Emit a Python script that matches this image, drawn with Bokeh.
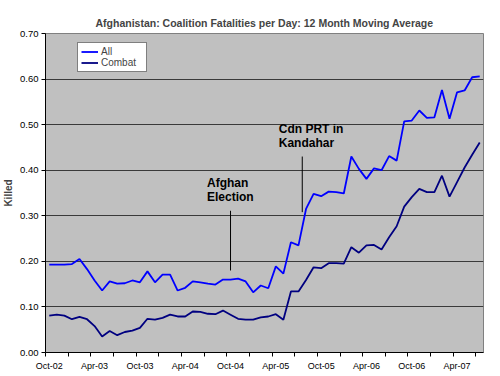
from bokeh.plotting import figure
from bokeh.models import FixedTicker, Legend, LegendItem, ColumnDataSource, Range1d, PrintfTickFormatter
from bokeh.embed import file_html
from bokeh.resources import INLINE
from bokeh.core.properties import value

title = "Afghanistan: Coalition Fatalities per Day: 12 Month Moving Average"
tick_labels = ["Oct-02", "Apr-03", "Oct-03", "Apr-04", "Oct-04",
               "Apr-05", "Oct-05", "Apr-06", "Oct-06", "Apr-07"]
months_per_label = 6

all_vals = [0.193, 0.193, 0.193, 0.194, 0.205, 0.183, 0.158, 0.136, 0.156, 0.151,
            0.152, 0.158, 0.154, 0.178, 0.154, 0.171,
            0.171, 0.136, 0.142, 0.156, 0.154, 0.151, 0.149, 0.160, 0.160, 0.162,
            0.156, 0.132, 0.147, 0.141, 0.189, 0.173,
            0.242, 0.235, 0.315, 0.348, 0.343, 0.353, 0.352, 0.349, 0.430, 0.403,
            0.381, 0.404, 0.400,
            0.431, 0.421, 0.507, 0.509, 0.531, 0.515, 0.516, 0.576, 0.513, 0.571,
            0.575, 0.604, 0.606]
combat_vals = [0.081, 0.083, 0.081, 0.073, 0.078, 0.073, 0.058, 0.035, 0.047, 0.038,
               0.045, 0.048, 0.054, 0.074, 0.072, 0.076,
               0.083, 0.079, 0.079, 0.090, 0.089, 0.085, 0.084, 0.092, 0.083, 0.074,
               0.072, 0.072, 0.077, 0.079, 0.084, 0.072,
               0.134, 0.134, 0.159, 0.187, 0.185, 0.196, 0.196, 0.195, 0.231, 0.219,
               0.235, 0.236, 0.226,
               0.253, 0.277, 0.320, 0.341, 0.359, 0.352, 0.352, 0.388, 0.342, 0.374,
               0.406, 0.434, 0.461]

event_text = ["Afghan\nElection", "Cdn PRT in\nKandahar"]
event_x = [24.5, 34.0]
event_top = [0.311, 0.430]
event_bottom = [0.180, 0.308]

n = len(all_vals)
xs = [i + 0.5 for i in range(n)]
src = ColumnDataSource(dict(x=xs, all=all_vals, combat=combat_vals))

FONT = "Liberation Sans"

p = figure(width=500, height=376, output_backend="svg", toolbar_location=None,
           x_range=Range1d(0, n), y_range=Range1d(0, 0.7),
           min_border_left=43, min_border_right=17, min_border_top=33, min_border_bottom=24)
p.background_fill_color = "#C0C0C0"
p.border_fill_color = "white"
p.outline_line_color = "#808080"

p.title.text = title
p.title.align = "center"
p.title.text_font = FONT
p.title.text_font_size = "10.5px"
p.title.text_font_style = "bold"

r_all = p.line("x", "all", source=src, line_color="#0000FF", line_width=1.8)
r_com = p.line("x", "combat", source=src, line_color="#000080", line_width=1.8)

ev = ColumnDataSource(dict(x=event_x, top=event_top, bottom=event_bottom, text=event_text))
p.segment(x0="x", y0="bottom", x1="x", y1="top", source=ev, line_color="black", line_width=1)
p.text(x="x", y="top", text="text", source=ev, text_font=value(FONT), text_font_style="bold",
       text_font_size="12px", text_align="left", text_baseline="bottom",
       x_offset=-23.5, y_offset=-7, text_line_height=1.0, text_color="black")

# axes
xticks = [k * months_per_label + 0.5 for k in range(len(tick_labels))]
p.xaxis.ticker = FixedTicker(ticks=xticks, minor_ticks=list(range(0, n, 3)))
p.xaxis.major_label_overrides = {t: l for t, l in zip(xticks, tick_labels)}
p.xaxis.major_tick_out = 0
p.xaxis.major_tick_in = 0
p.xaxis.minor_tick_out = 4
p.xaxis.minor_tick_in = 0
p.xaxis.major_label_standoff = 4
p.xaxis.major_label_text_font = FONT
p.xaxis.major_label_text_font_size = "9px"
p.xaxis.major_label_text_color = "black"
p.xaxis.axis_line_color = "black"
p.xaxis.minor_tick_line_color = "black"

p.yaxis.ticker = FixedTicker(ticks=[i / 10 for i in range(8)])
p.yaxis.formatter = PrintfTickFormatter(format="%.2f")
p.yaxis.major_tick_out = 4
p.yaxis.major_tick_in = 0
p.yaxis.minor_tick_out = 0
p.yaxis.minor_tick_in = 0
p.yaxis.major_label_standoff = 3
p.yaxis.major_label_text_font = FONT
p.yaxis.major_label_text_font_size = "9.5px"
p.yaxis.major_label_text_color = "black"
p.yaxis.axis_line_color = "black"
p.yaxis.major_tick_line_color = "black"
p.yaxis.axis_label = "Killed"
p.yaxis.axis_label_text_font = FONT
p.yaxis.axis_label_text_font_size = "10px"
p.yaxis.axis_label_text_font_style = "bold"
p.yaxis.axis_label_standoff = 3

p.xgrid.visible = False
p.ygrid.grid_line_color = "#3a3a3a"
p.ygrid.grid_line_width = 1

legend = Legend(items=[LegendItem(label="All", renderers=[r_all]),
                       LegendItem(label="Combat", renderers=[r_com])],
                location=(32, 280))
legend.label_text_font = FONT
legend.label_text_font_size = "10px"
legend.border_line_color = "black"
legend.border_line_width = 1
legend.background_fill_color = "white"
legend.background_fill_alpha = 1
legend.padding = 3
legend.spacing = 0
legend.margin = 0
legend.glyph_width = 17
legend.glyph_height = 11
legend.label_height = 11
legend.label_standoff = 3
legend.label_width = 42
p.add_layout(legend, "center")

open("out.html", "w").write(file_html(p, INLINE))
